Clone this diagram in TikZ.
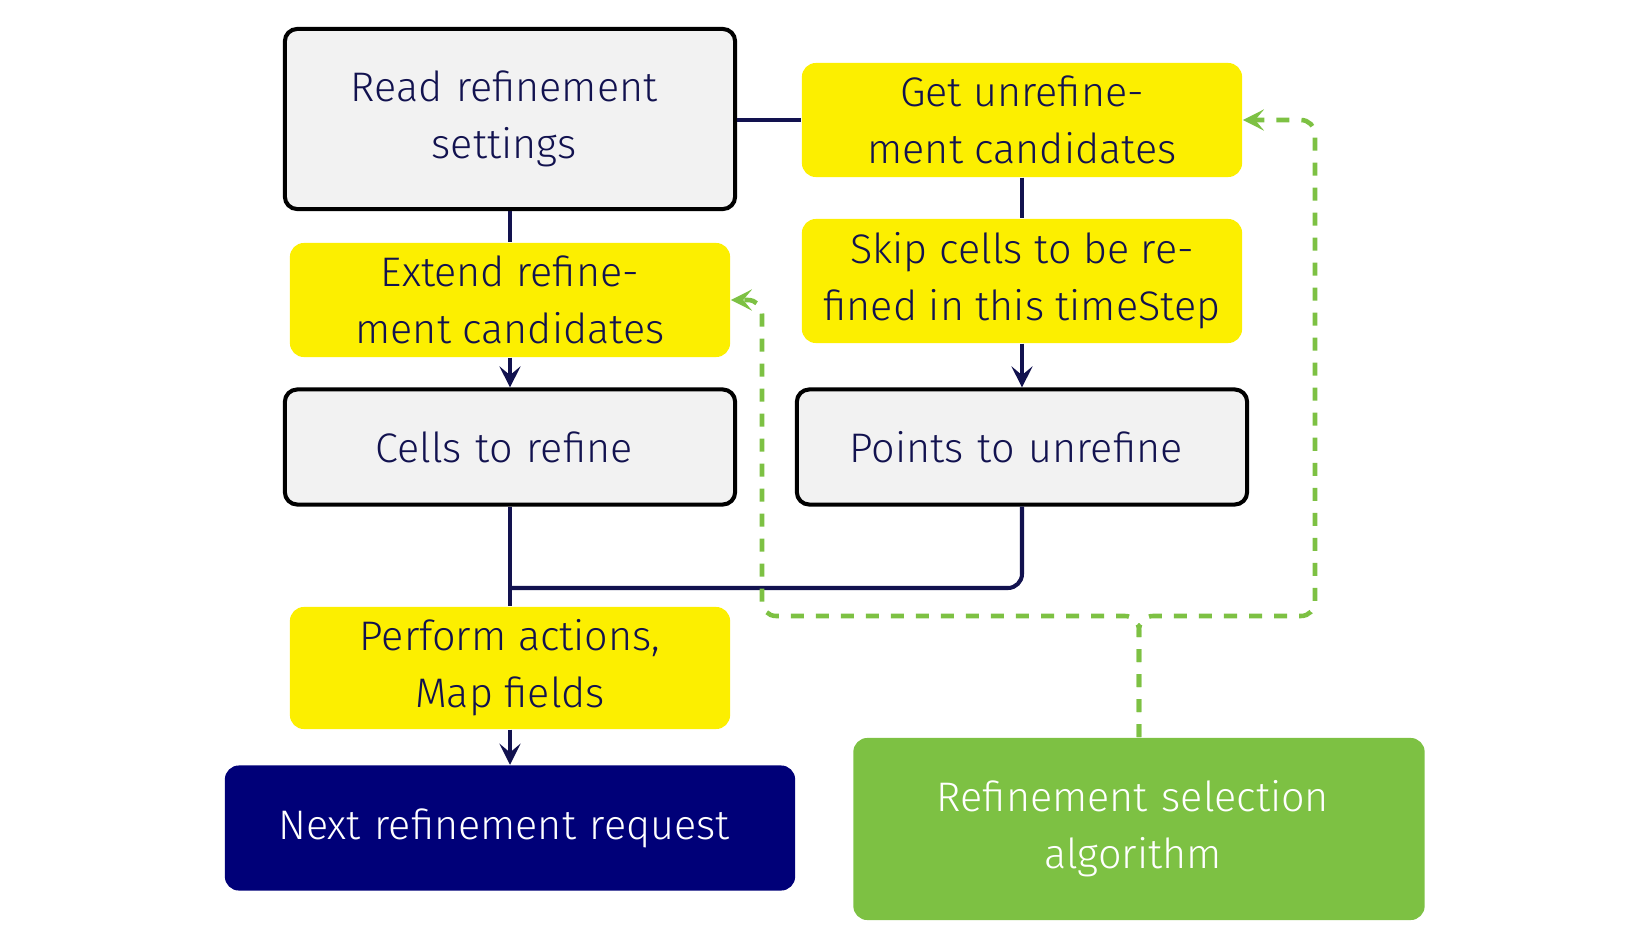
\documentclass[tikz,border=0pt]{standalone}
\usepackage{fontspec}
\setmainfont{Fira Sans Light}
\usetikzlibrary{arrows.meta}
\definecolor{boxgray}{HTML}{F2F2F2}
\definecolor{inkblue}{HTML}{12124F}
\definecolor{stepyellow}{HTML}{FCEF00}
\definecolor{deepnavy}{HTML}{000078}
\definecolor{selgreen}{HTML}{7DC143}
\begin{document}
\begin{tikzpicture}[x=0.01cm,y=-0.01cm,
        every node/.style={font=\fontsize{11.75}{16.2}\selectfont,align=center,inner sep=0pt},
        offtext/.style={text width=#1,execute at begin node={\leftskip=0pt plus 1fil\rightskip=0.12cm plus 1fil\parfillskip=0pt}},
        datbox/.style={draw=black,line width=1.15pt,fill=boxgray,rounded corners=3.5pt,text=inkblue,offtext=4.5cm},
        actbox/.style={fill=stepyellow,rounded corners=4pt,text=inkblue,minimum width=4.4cm},
        endbox/.style={fill=#1,text=white,rounded corners=4pt},
        link/.style={draw=inkblue,line width=1.15pt},
        fb/.style={draw=selgreen,line width=1.3pt,dash pattern=on 0.13cm off 0.12cm,rounded corners=4pt},
        >={Stealth[length=6pt,width=6pt,inset=2.5pt]}]
                \useasboundingbox (0,0) rectangle (1650,945);
                \node[datbox,minimum height=1.8cm] (read) at (510,119) {Read refinement\\settings};
                \node[actbox,minimum height=1.14cm] (get) at (1022,120) {Get unrefine-\\ment candidates};
                \node[actbox,minimum height=1.14cm] (extend) at (510,300) {Extend refine-\\ment candidates};
                \node[actbox,minimum height=1.24cm] (skip) at (1022,281) {Skip cells to be re-\\fined in this timeStep};
                \node[datbox,minimum height=1.15cm] (cells) at (510,447) {Cells to refine};
                \node[datbox,minimum height=1.15cm] (points) at (1022,447) {Points to unrefine};
                \node[actbox,minimum height=1.22cm] (perform) at (510,668) {Perform actions,\\Map fields};
                \node[endbox=deepnavy,offtext=5.7cm,minimum height=1.25cm] (next) at (510,828) {Next refinement request};
                \node[endbox=selgreen,offtext=5.71cm,minimum height=1.82cm] (select) at (1139,829) {Refinement selection\\algorithm};
                \coordinate (join) at (510,588);
                \coordinate (turnL) at (762,616);
                \coordinate (turnR) at (1315,616);
                \draw[link] (get.west -| read.east) -- (get.west);
                \draw[link] (read.south) -- (extend.north);
                \draw[link,->] (extend.south) -- (cells.north);
                \draw[link] (get.south) -- (skip.north);
                \draw[link,->] (skip.south) -- (points.north);
                \draw[link] (cells.south) -- (perform.north);
                \draw[link,rounded corners=4pt] (points.south) |- (join);
                \draw[link,->] (perform.south) -- (next.north);
                \draw[fb,->] (select.north) |- (turnL) |- (extend.east);
                \draw[fb,->] (select.north) |- (turnR) |- (get.east);
            \end{tikzpicture}
\end{document}
